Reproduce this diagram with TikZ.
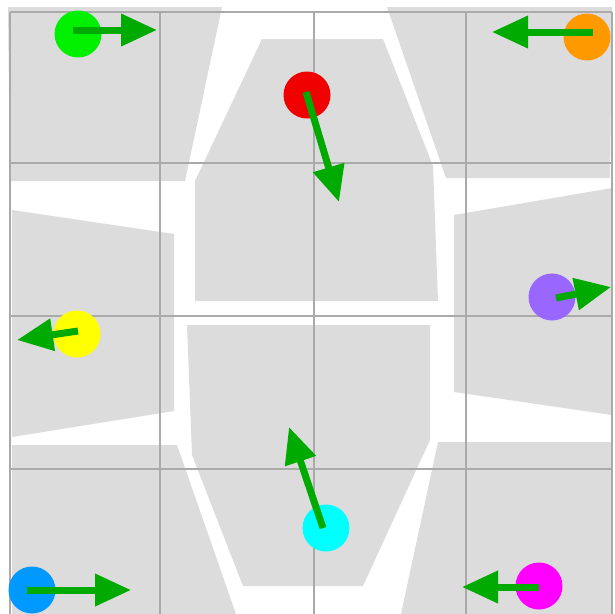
\documentclass[tikz,border=0pt]{standalone}
\usepackage{tikz}
\usetikzlibrary{arrows.meta}
\definecolor{regiongray}{RGB}{220,220,220}
\definecolor{gridgray}{RGB}{170,170,170}
\definecolor{arrowgreen}{RGB}{0,170,0}
\definecolor{ballgreen}{RGB}{0,240,0}
\definecolor{ballred}{RGB}{240,0,0}
\definecolor{ballorange}{RGB}{255,153,0}
\definecolor{ballpurple}{RGB}{153,102,255}
\definecolor{ballyellow}{RGB}{255,255,0}
\definecolor{ballblue}{RGB}{0,153,255}
\definecolor{ballcyan}{RGB}{0,255,255}
\definecolor{ballmagenta}{RGB}{255,0,255}
\tikzstyle{ball}=[circle, minimum size = 47pt, inner sep=0pt]
\tikzstyle{vel}=[draw=arrowgreen, line width=7pt, -{Triangle[length=36pt,width=31pt]}]
\tikzstyle{gridline}=[draw=gridgray, line width=2.2pt]
\newcommand{\ballVel}[8]{%
    \node [ball, fill=#2] (ball#1) at (#3,#4) {};
    \coordinate (tail#1) at (#5,#6);
    \coordinate (tip#1) at (#7,#8);
}

\begin{document}
\begin{tikzpicture}[x=1pt, y=-1pt]
    \fill[white] (0,0) rectangle (614,614);
    \useasboundingbox (0,0) rectangle (614,614);

    %top row
    \fill[regiongray] (8,7) -- (222,7) -- (185,181) -- (10,181) -- cycle;
    \fill[regiongray] (262,39) -- (383,39) -- (433,166) -- (438,301) -- (195,301) -- (195,181) -- cycle;
    \fill[regiongray] (387,7) -- (612,7) -- (610,178) -- (446,178) -- cycle;

    % middle
    \fill[regiongray] (12,210) -- (174,234) -- (174,411) -- (12,437) -- cycle;
    \fill[regiongray] (454,215) -- (612,188) -- (612,415) -- (454,392) -- cycle;

    % bottom row
    \fill[regiongray] (187,325) -- (430,325) -- (430,440) -- (363,586) -- (243,586) -- (192,455) -- cycle;
    \fill[regiongray] (12,445) -- (177,445) -- (236,614) -- (12,614) -- cycle;
    \fill[regiongray] (438,442) -- (612,442) -- (612,614) -- (401,614) -- cycle;

    %grid
    \foreach \x in {10,160,314,466,612}{\draw[gridline] (\x,12) -- (\x,614);}
    \foreach \y in {12,163,316,469}{\draw[gridline] (10,\y) -- (612,\y);}

    %balls
    \ballVel{G}{ballgreen}{78}{34}{73}{30}{157}{30}
    \ballVel{R}{ballred}{307}{95}{306}{92}{339}{202}
    \ballVel{O}{ballorange}{587}{37}{593}{32}{492}{32}
    \ballVel{P}{ballpurple}{552}{297}{556}{298}{611}{287}
    \ballVel{Y}{ballyellow}{77}{334}{78}{331}{17}{340}
    \ballVel{B}{ballblue}{32}{590}{27}{590}{131}{590}
    \ballVel{C}{ballcyan}{326}{528}{323}{528}{289}{427}
    \ballVel{M}{ballmagenta}{539}{586}{539}{587}{462}{587}

    %velocities
    \foreach \b in {G,R,O,P,Y,B,C,M} {
    \draw [vel] (tail\b) -- (tip\b);
    }

\end{tikzpicture}
\end{document}
